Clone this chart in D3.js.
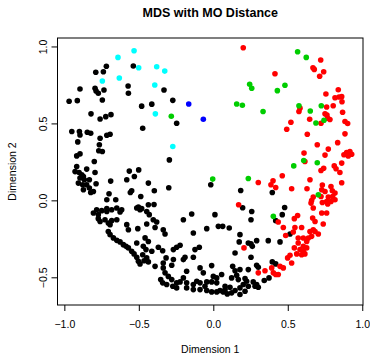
<!DOCTYPE html>
<html>
<head>
<meta charset="utf-8">
<script src="https://cdn.jsdelivr.net/npm/d3@7"></script>
<style>
  html, body { margin: 0; padding: 0; background: #fff; }
  svg { display: block; }
</style>
</head>
<body>
<script>
// Tick values shared by both axes
const xTicks = [-1.0, -0.5, 0.0, 0.5, 1.0]
const yTicks = [-0.5, 0.0, 0.5, 1.0]

// Points per cluster, [dimension 1, dimension 2]
const cyanPts = [[-0.532,0.972],[-0.640,0.929],[-0.501,0.862],[-0.745,0.776],[-0.631,0.795],[-0.380,0.868],[-0.326,0.840],[-0.393,0.750],[-0.389,0.562],[-0.272,0.350]]

const bluePts = [[-0.165,0.626],[-0.067,0.527]]

const greenPts = [[-0.282,0.547],[0.157,0.626],[0.195,0.618],[0.244,0.754],[0.258,0.728],[0.566,0.966],[0.624,0.929],[0.430,0.713],[0.481,0.748],[0.725,0.615],[0.575,0.615],[0.651,0.581],[0.334,0.577],[0.689,0.503],[0.743,0.521],[0.607,0.259],[0.540,0.224],[0.698,0.244],[-0.004,0.138],[0.235,0.142],[0.705,0.036],[0.403,-0.104]]

const redPts = [[0.201,0.992],[0.721,0.912],[0.669,0.862],[0.678,0.851],[0.741,0.836],[0.714,0.806],[0.414,0.823],[0.839,0.719],[0.756,0.691],[0.817,0.667],[0.844,0.672],[0.862,0.674],[0.864,0.641],[0.805,0.615],[0.761,0.607],[0.582,0.599],[0.575,0.577],[0.868,0.573],[0.750,0.562],[0.763,0.555],[0.768,0.534],[0.783,0.525],[0.647,0.527],[0.521,0.508],[0.723,0.501],[0.884,0.512],[0.902,0.499],
  [0.493,0.462],[0.631,0.430],[0.884,0.432],[0.835,0.375],[0.698,0.361],[0.772,0.333],[0.609,0.307],[0.750,0.294],[0.877,0.296],[0.895,0.311],[0.917,0.317],[0.929,0.300],[0.906,0.289],[0.615,0.252],[0.812,0.224],[0.862,0.242],[0.741,0.209],[0.723,0.194],[0.824,0.205],[0.850,0.181],[0.463,0.160],[0.302,0.116],[0.401,0.127],[0.387,0.101],[0.419,0.084],[0.649,0.134],[0.862,0.114],[0.732,0.099],[0.790,0.090],[0.526,0.075],[0.629,0.075],[0.728,0.069],[0.750,0.058],[0.799,0.062],[0.817,0.047],
  [0.723,0.025],[0.772,0.021],[0.801,0.025],[0.817,0.004],[0.790,-0.007],[0.761,-0.007],[0.671,0.021],[0.660,-0.001],[0.656,-0.018],[0.732,-0.014],[0.768,-0.024],[0.671,-0.050],[0.170,-0.029],[0.206,-0.309],
  [0.436,-0.141],[0.470,-0.176],[0.486,-0.228],[0.537,-0.206],[0.548,-0.176],[0.544,-0.119],[0.566,-0.098],[0.593,-0.176],[0.604,-0.245],[0.627,-0.267],[0.638,-0.245],[0.660,-0.234],[0.671,-0.191],[0.649,-0.202],[0.683,-0.202],[0.705,-0.219],[0.667,-0.115],[0.728,-0.082],[0.761,-0.082],[0.738,-0.154],[0.683,-0.137],
  [0.570,-0.277],[0.544,-0.309],[0.515,-0.357],[0.526,-0.407],[0.499,-0.374],[0.582,-0.320],[0.604,-0.331],[0.627,-0.309],[0.615,-0.348],[0.593,-0.353],[0.560,-0.348],[0.470,-0.439],[0.448,-0.429],[0.392,-0.439],[0.347,-0.457],[0.302,-0.471],[0.403,-0.471],[0.419,-0.482],[0.436,-0.482],[0.604,-0.299],[0.570,-0.245]]

const blackPts = [[-0.718,0.871],[-0.738,0.836],[-0.789,0.832],[-0.537,0.873],[-0.895,0.724],[-0.794,0.728],[-0.787,0.711],[-0.772,0.696],[-0.734,0.717],[-0.572,0.743],[-0.570,0.696],[-0.968,0.644],[-0.913,0.648],[-0.745,0.652],[-0.481,0.612],[-0.821,0.562],[-0.760,0.529],[-0.722,0.544],[-0.687,0.557],[-0.331,0.717],[-0.272,0.650],[-0.413,0.625],[-0.246,0.501],
  [-0.950,0.447],[-0.899,0.447],[-0.895,0.425],[-0.846,0.443],[-0.823,0.436],[-0.474,0.469],[-0.693,0.430],[-0.715,0.423],[-0.760,0.404],[-0.910,0.380],[-0.765,0.361],[-0.769,0.322],[-0.745,0.317],[-0.917,0.289],[-0.895,0.302],[-0.799,0.252],[-0.917,0.220],[-0.928,0.187],[-0.901,0.181],[-0.883,0.166],[-0.872,0.155],[-0.850,0.203],[-0.794,0.181],[-0.895,0.145],[-0.866,0.134],[-0.832,0.134],[-0.906,0.112],[-0.877,0.101],[-0.850,0.101],[-0.787,0.108],[-0.872,0.069],[-0.832,0.080],[-0.823,0.051],[-0.805,0.058],
  [-0.689,0.125],[-0.564,0.190],[-0.501,0.198],[-0.581,0.134],[-0.530,0.155],[-0.436,0.112],[-0.700,0.043],[-0.548,0.062],[-0.557,0.051],[-0.655,0.004],[-0.715,0.004],[-0.487,0.025],[-0.503,-0.043],[-0.295,0.263],[-0.017,0.101],[-0.396,0.062],[-0.299,0.082],[0.184,0.064],[-0.398,-0.027],[0.197,-0.048],[0.396,0.051],[0.479,-0.046],
  [-0.783,-0.061],[-0.805,-0.082],[-0.772,-0.093],[-0.749,-0.067],[-0.715,-0.054],[-0.715,-0.072],[-0.682,-0.061],[-0.648,-0.050],[-0.615,-0.061],[-0.626,-0.076],[-0.772,-0.119],[-0.760,-0.137],[-0.727,-0.126],[-0.705,-0.147],[-0.693,-0.158],[-0.682,-0.132],[-0.648,-0.126],[-0.581,-0.158],[-0.570,-0.191],[-0.507,-0.184],[-0.514,-0.050],[-0.492,-0.061],[-0.447,-0.072],[-0.430,-0.093],[-0.436,-0.029],
  [-0.705,-0.202],[-0.693,-0.223],[-0.671,-0.244],[-0.648,-0.260],[-0.626,-0.270],[-0.604,-0.288],[-0.586,-0.299],[-0.570,-0.309],[-0.548,-0.331],[-0.532,-0.348],[-0.514,-0.370],[-0.503,-0.396],[-0.492,-0.413],[-0.465,-0.392],[-0.447,-0.374],[-0.452,-0.320],[-0.470,-0.299],[-0.514,-0.277],[-0.436,-0.267],[-0.458,-0.244],
  [-0.481,-0.054],[-0.403,-0.126],[-0.380,-0.141],[-0.391,-0.176],[-0.447,-0.154],[-0.336,-0.191],[-0.324,-0.219],[-0.201,-0.126],[-0.145,-0.089],[-0.134,-0.212],[-0.044,-0.184],[0.011,-0.093],[0.034,-0.169],[0.063,-0.169],[0.107,-0.180],[0.179,-0.223],[0.174,-0.270],[0.146,-0.342],
  [-0.413,-0.331],[-0.369,-0.305],[-0.340,-0.327],[-0.268,-0.320],[-0.246,-0.305],[-0.223,-0.292],[-0.474,-0.353],[-0.436,-0.400],[-0.391,-0.429],[-0.336,-0.407],[-0.317,-0.374],[-0.268,-0.385],[-0.279,-0.422],[-0.201,-0.385],[-0.190,-0.370],[-0.134,-0.370],[-0.123,-0.320],[-0.094,-0.305],
  [-0.179,-0.461],[-0.089,-0.439],[-0.067,-0.471],[-0.011,-0.424],[0.000,-0.494],[0.023,-0.504],[0.056,-0.482],[0.130,-0.429],[0.146,-0.457],[0.179,-0.450],[0.157,-0.487],[0.168,-0.515],[0.123,-0.504],[0.112,-0.565],[0.079,-0.580],[0.067,-0.595],[0.045,-0.586],[0.023,-0.536],[-0.011,-0.530],[-0.044,-0.530],[-0.056,-0.558],[-0.089,-0.536],[-0.111,-0.526],[-0.134,-0.547],[-0.179,-0.536],[-0.201,-0.504],[-0.223,-0.530],[-0.246,-0.536],[-0.279,-0.515],[-0.302,-0.494],[-0.324,-0.471],[-0.336,-0.439],[-0.353,-0.515],[-0.340,-0.536],[-0.313,-0.547],[-0.272,-0.558],[-0.246,-0.569],[-0.179,-0.569],[-0.134,-0.580],[-0.089,-0.580],[-0.044,-0.586],[-0.011,-0.595],[0.023,-0.595],[0.079,-0.558],[0.094,-0.608],[0.123,-0.601],[0.146,-0.586],[0.179,-0.569],[0.201,-0.547],[0.224,-0.526],[0.235,-0.558],[0.179,-0.612],[0.213,-0.591],
  [0.258,-0.072],[0.253,-0.126],[0.463,-0.093],[0.419,-0.132],[0.515,-0.219],[0.291,-0.262],[0.253,-0.283],[0.235,-0.277],[0.262,-0.299],[0.369,-0.262],[0.448,-0.270],[0.253,-0.370],[0.291,-0.422],[0.302,-0.435],[0.235,-0.450],[0.396,-0.400],[0.419,-0.413],[0.213,-0.508],[0.268,-0.530],[0.291,-0.547],[0.302,-0.565],[0.280,-0.558],[0.342,-0.521],[0.374,-0.504]]

const groups = [
  { pts: blackPts, color: '#000000' },
  { pts: redPts, color: '#FF0000' },
  { pts: greenPts, color: '#00CD00' },
  { pts: bluePts, color: '#0000FF' },
  { pts: cyanPts, color: '#00FFFF' }
]

const width = 370
const height = 355
const box = { left: 57.5, right: 363, top: 38, bottom: 305 }
const font = "'Liberation Sans', Arial, Helvetica, sans-serif"

const svg = d3.select('body').append('svg')
  .attr('width', width)
  .attr('height', height)
  .attr('viewBox', `0 0 ${width} ${height}`)

const x = d3.scaleLinear().domain([-1.046, 1.005]).range([box.left, box.right])
const y = d3.scaleLinear().domain([-0.68, 1.055]).range([box.bottom, box.top])

// Points
groups.forEach(grp => {
  svg.append('g')
    .selectAll('circle')
    .data(grp.pts)
    .join('circle')
    .attr('cx', d => x(d[0]))
    .attr('cy', d => y(d[1]))
    .attr('r', 2.8)
    .attr('fill', grp.color)
})

// Box
svg.append('rect')
  .attr('x', box.left)
  .attr('y', box.top)
  .attr('width', box.right - box.left)
  .attr('height', box.bottom - box.top)
  .attr('fill', 'none')
  .attr('stroke', '#000')
  .attr('stroke-width', 1)

// X axis
const gx = svg.append('g')
  .attr('transform', `translate(0, ${box.bottom})`)
  .call(d3.axisBottom(x).tickValues(xTicks).tickFormat(d3.format('.1f')).tickSize(6).tickPadding(10))
gx.select('.domain').remove()
gx.selectAll('text')
  .attr('font-family', font)
  .attr('font-size', '10.5px')
  .attr('fill', '#000')

// Y axis (labels rotated as in R)
const gy = svg.append('g')
  .attr('transform', `translate(${box.left}, 0)`)
  .call(d3.axisLeft(y).tickValues(yTicks).tickFormat(d3.format('.1f')).tickSize(6))
gy.select('.domain').remove()
gy.selectAll('text')
  .attr('x', null)
  .attr('dy', null)
  .attr('transform', 'translate(-10.5, 0) rotate(-90)')
  .attr('text-anchor', 'middle')
  .attr('font-family', font)
  .attr('font-size', '10.5px')
  .attr('fill', '#000')

// Title and axis titles
svg.append('text')
  .attr('x', (box.left + box.right) / 2)
  .attr('y', 16.5)
  .attr('text-anchor', 'middle')
  .attr('font-family', font)
  .attr('font-size', '12.5px')
  .attr('font-weight', 'bold')
  .text('MDS with MO Distance')

svg.append('text')
  .attr('x', (box.left + box.right) / 2)
  .attr('y', 353)
  .attr('text-anchor', 'middle')
  .attr('font-family', font)
  .attr('font-size', '10.5px')
  .text('Dimension 1')

svg.append('text')
  .attr('transform', `translate(16, ${(box.top + box.bottom) / 2}) rotate(-90)`)
  .attr('text-anchor', 'middle')
  .attr('font-family', font)
  .attr('font-size', '10.5px')
  .text('Dimension 2')
</script>
</body>
</html>
